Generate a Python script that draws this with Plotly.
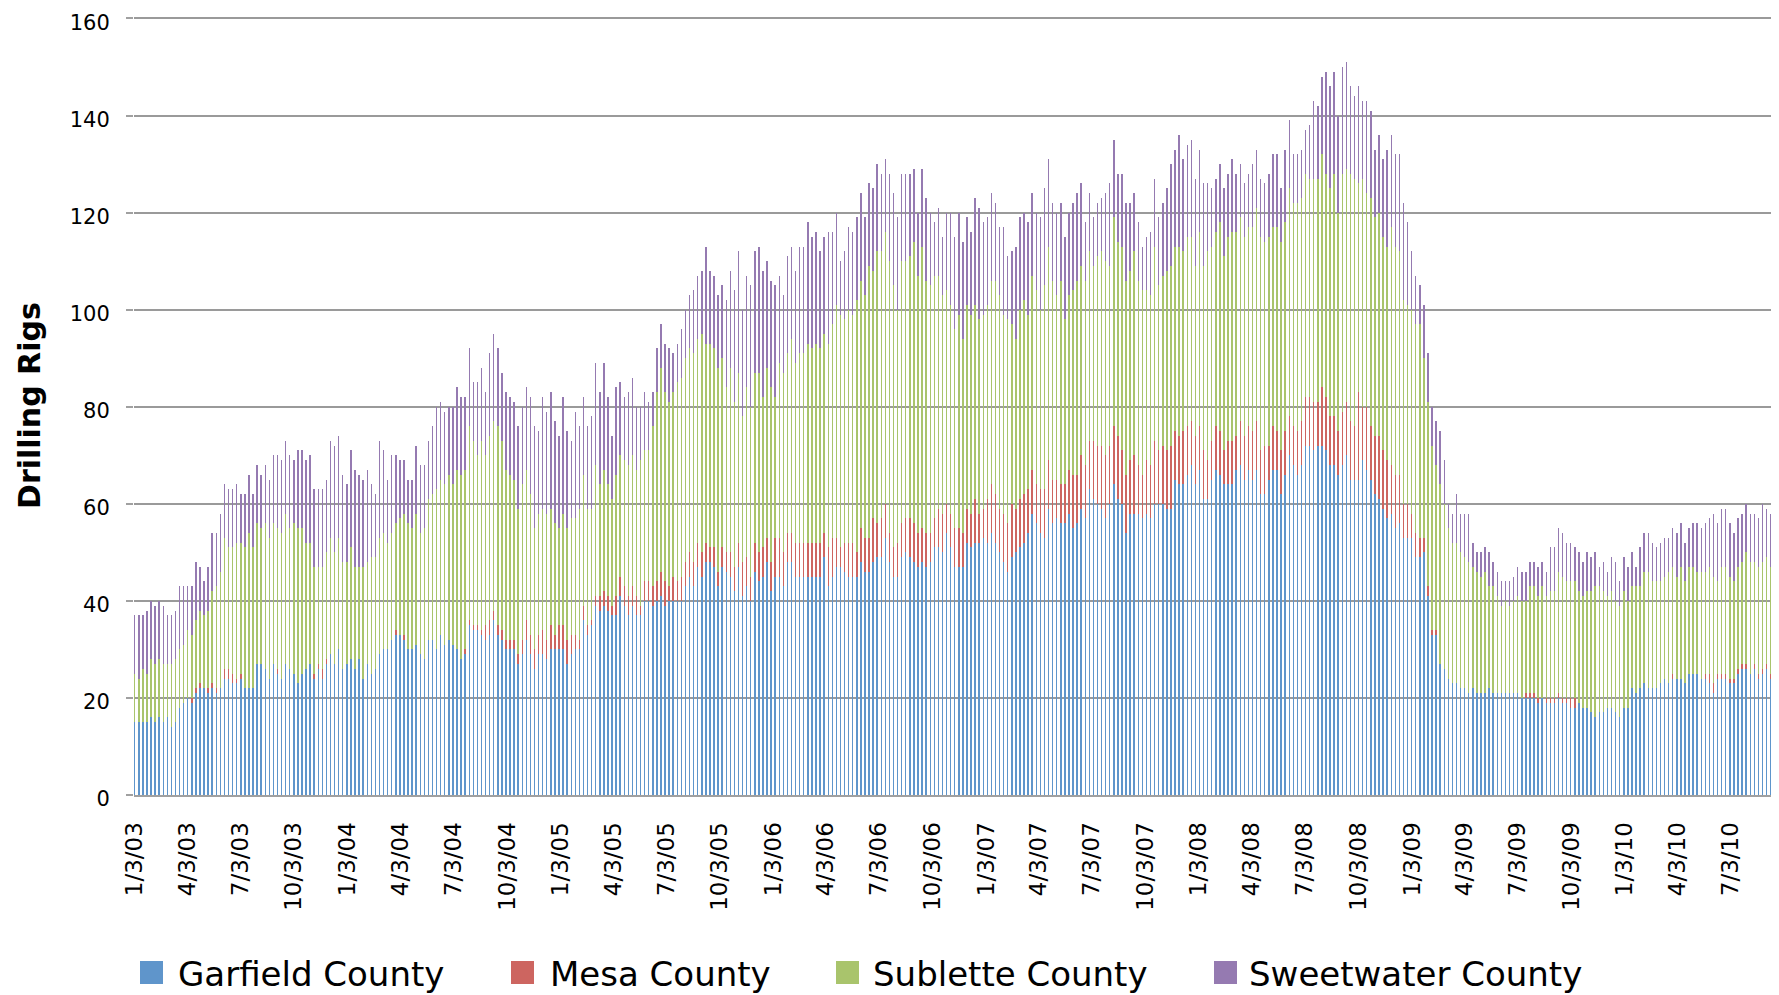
import pandas as pd
import plotly.graph_objects as go

# ---------------- data (weekly rig counts) ----------------
garfield = [
    15,15,15,15,16,15,16,15,16,14, 15,18,19,20,19,21,22,22,21,22,
    21,22,24,24,23,23,24,22,22,22, 27,27,26,24,27,25,24,27,26,25,
    23,25,26,27,24,26,24,27,29,27, 30,26,27,28,26,28,24,27,25,26,
    29,30,30,32,33,33,32,30,30,31, 29,28,32,32,30,33,31,32,31,30,
    28,29,35,34,34,33,32,33,36,33, 32,30,30,30,27,29,32,29,26,29,
    29,28,30,30,30,30,27,29,30,30, 36,33,35,39,38,39,38,37,37,41,
    39,37,39,37,37,40,40,39,40,41, 39,40,40,40,40,43,45,43,47,45,
    48,48,47,43,47,46,45,42,47,41, 43,40,46,44,45,48,42,45,45,43,
    48,48,45,45,45,45,45,45,45,49, 43,45,47,47,46,45,45,45,48,46,
    46,48,49,49,53,48,45,45,49,50, 49,48,47,48,47,48,51,51,50,54,
    51,47,47,47,52,51,52,52,53,52, 54,52,50,48,46,49,50,51,52,54,
    58,56,54,53,59,56,57,56,56,58, 55,56,59,57,63,61,60,59,57,60,
    64,61,60,54,58,58,58,57,58,57, 60,60,60,59,59,65,64,64,66,68,
    64,67,61,61,65,67,66,64,64,64, 67,68,65,67,65,67,62,62,65,67,
    67,62,66,70,68,66,68,72,72,71, 72,72,71,68,68,66,68,70,65,65,
    65,69,67,65,62,61,59,57,58,55, 56,53,53,53,49,49,50,41,33,33,
    27,26,24,23,23,22,22,21,22,21, 21,21,22,21,21,21,21,21,21,21,
    20,20,20,20,19,20,19,19,19,20, 19,19,18,18,19,18,18,17,16,17,
    17,18,18,17,16,18,18,22,21,22, 23,22,22,22,23,24,23,24,24,24,
    23,25,25,25,24,24,23,21,24,24, 24,23,23,25,26,26,25,26,24,25,
    26,24,25,
]

mesa = [
    0,0,0,0,0,0,0,0,0,0, 0,0,0,0,1,1,1,0,1,1,
    1,0,2,2,2,1,1,0,0,0, 0,0,0,0,0,1,0,0,0,0,
    0,0,0,0,1,1,2,1,0,0, 0,0,0,0,0,0,0,0,0,0,
    0,0,0,0,1,0,1,0,0,0, 0,0,0,0,0,0,0,0,0,0,
    0,1,1,1,1,1,3,3,2,2, 2,2,2,2,2,3,4,4,4,4,
    5,4,5,3,5,5,5,4,3,2, 3,2,1,2,3,3,3,2,4,4,
    4,4,4,4,2,4,4,4,4,5, 5,3,5,4,5,5,5,5,5,5,
    4,3,4,3,4,4,5,5,5,7, 6,5,6,6,6,5,6,8,8,7,
    6,6,7,7,7,7,7,7,7,5, 8,8,6,4,6,7,7,5,7,7,
    7,9,7,8,7,6,6,7,7,7, 8,8,7,7,7,6,6,8,8,6,
    7,8,8,7,7,7,9,6,6,9, 10,10,9,10,10,11,9,10,10,9,
    9,8,9,10,10,9,8,8,8,9, 11,10,11,11,10,12,12,13,13,12,
    12,13,11,12,11,12,10,9,11,11, 13,11,12,12,13,10,10,11,10,9,
    10,9,10,8,8,9,9,7,9,9, 7,9,9,9,10,10,9,10,7,9,
    8,9,9,8,8,9,9,10,10,10, 9,12,11,10,10,9,11,11,12,11,
    18,11,13,11,12,13,12,12,10,11, 10,7,7,5,5,4,3,2,1,1,
    0,0,0,0,0,0,0,0,0,0, 0,0,0,0,0,0,0,0,0,0,
    0,1,1,1,1,0,1,1,1,1, 1,1,2,2,0,0,0,0,0,0,
    0,0,0,0,0,0,0,0,0,0, 0,0,0,0,0,0,0,1,0,0,
    0,0,0,0,0,1,2,2,1,1, 1,1,1,1,1,1,0,1,1,1,
    1,1,1,
]

sublette = [
    10,9,11,10,12,12,12,12,11,13, 13,12,12,14,13,14,15,15,16,19,
    21,24,27,25,26,28,27,29,32,29, 29,28,30,29,29,29,30,31,29,31,
    32,30,26,25,22,20,21,22,24,23, 23,22,21,23,21,19,23,21,24,23,
    24,24,22,22,22,24,25,26,25,27, 25,27,29,30,33,32,33,34,33,37,
    38,37,40,38,35,39,35,38,39,41, 39,35,34,33,30,32,31,29,25,25,
    25,26,24,23,20,23,23,24,24,27, 27,24,23,27,23,25,23,22,25,25,
    26,27,27,26,30,27,27,33,39,42, 39,38,38,41,41,42,42,43,42,45,
    41,42,41,42,39,34,38,34,35,30, 35,35,35,37,31,35,36,29,36,37,
    37,40,37,39,39,41,40,41,40,41, 42,44,48,48,46,48,47,52,51,50,
    56,51,56,55,56,56,54,48,54,53, 54,58,53,58,52,51,50,48,45,44,
    43,41,44,40,42,41,40,40,40,40, 42,44,44,41,42,37,35,39,40,36,
    40,40,37,42,44,41,38,42,34,36, 38,40,39,38,39,36,39,40,40,37,
    43,40,42,40,39,42,38,38,35,35, 40,34,35,37,37,38,39,37,39,38,
    35,40,38,43,40,40,43,40,42,43, 42,42,41,41,42,44,44,42,43,41,
    42,43,43,47,46,47,46,46,45,46, 46,48,46,47,50,45,49,48,51,51,
    43,47,44,47,45,46,44,44,49,47, 46,42,41,42,43,44,37,38,38,34,
    37,34,31,29,29,28,27,27,25,25, 24,25,21,22,20,18,19,18,19,20,
    20,19,22,22,21,23,21,22,22,25, 25,24,24,24,23,23,24,25,27,26,
    25,23,24,23,23,24,22,21,22,21, 23,24,22,22,21,21,23,22,21,23,
    21,22,22,21,22,21,22,22,19,22, 22,21,20,21,21,23,23,21,22,22,
    22,22,22,
]

sweetwater = [
    12,13,11,13,12,12,12,12,10,10, 10,13,12,9,10,12,9,7,9,12,
    11,12,11,12,12,12,10,11,12,11, 12,11,12,12,14,15,15,15,15,13,
    16,16,17,18,16,16,16,15,20,22, 21,18,16,20,20,19,18,19,15,13,
    20,17,13,16,14,12,11,9,10,14, 14,13,12,14,17,16,15,14,16,17,
    16,15,16,12,15,15,13,17,18,16, 14,16,16,16,17,16,17,20,21,17,
    23,21,24,21,19,24,20,16,22,17, 16,17,19,21,19,22,18,13,18,15,
    13,15,16,13,11,12,10,7,9,9, 10,11,8,8,10,10,11,13,13,13,
    20,15,15,15,15,18,20,23,25,22, 23,25,25,26,26,22,22,23,18,16,
    20,19,19,22,22,25,23,23,20,20, 23,19,19,11,14,17,17,17,18,16,
    17,17,18,16,15,18,19,19,18,18, 17,15,13,16,17,15,11,14,12,16,
    19,19,21,20,18,17,22,23,19,18, 18,16,14,18,13,15,19,19,18,19,
    17,16,19,20,18,16,17,16,17,17, 18,18,17,12,12,10,11,11,14,17,
    16,14,15,16,14,12,12,9,11,13, 14,14,15,17,21,20,23,19,19,20,
    18,17,17,14,12,11,12,14,13,15, 12,11,11,11,13,12,12,12,13,15,
    15,11,15,14,10,10,10,9,11,16, 15,16,21,21,21,20,22,22,18,17,
    20,16,19,18,14,16,16,20,19,19, 20,20,17,12,10,8,11,10,8,9,
    11,9,5,6,10,8,9,10,5,4, 5,5,7,5,5,5,4,5,5,6,
    6,6,5,5,6,5,5,9,9,9, 9,8,8,7,8,7,8,7,7,4,
    6,5,7,8,5,7,7,7,4,8, 8,8,8,7,8,8,7,8,9,9,
    8,8,9,10,9,10,10,13,12,12, 12,11,10,10,10,10,10,10,10,12,
    10,11,10,
]

first_week = "2003-01-03"
tick_dates = [
    "2003-01-03", "2003-04-03", "2003-07-03", "2003-10-03",
    "2004-01-03", "2004-04-03", "2004-07-03", "2004-10-03",
    "2005-01-03", "2005-04-03", "2005-07-03", "2005-10-03",
    "2006-01-03", "2006-04-03", "2006-07-03", "2006-10-03",
    "2007-01-03", "2007-04-03", "2007-07-03", "2007-10-03",
    "2008-01-03", "2008-04-03", "2008-07-03", "2008-10-03",
    "2009-01-03", "2009-04-03", "2009-07-03", "2009-10-03",
    "2010-01-03", "2010-04-03", "2010-07-03",
]
tick_labels = [
    "1/3/03", "4/3/03", "7/3/03", "10/3/03",
    "1/3/04", "4/3/04", "7/3/04", "10/3/04",
    "1/3/05", "4/3/05", "7/3/05", "10/3/05",
    "1/3/06", "4/3/06", "7/3/06", "10/3/06",
    "1/3/07", "4/3/07", "7/3/07", "10/3/07",
    "1/3/08", "4/3/08", "7/3/08", "10/3/08",
    "1/3/09", "4/3/09", "7/3/09", "10/3/09",
    "1/3/10", "4/3/10", "7/3/10",
]
y_ticks = [0, 20, 40, 60, 80, 100, 120, 140, 160]
series_names = ["Garfield County", "Mesa County", "Sublette County", "Sweetwater County"]
series_colors = ["rgba(95,149,203,0.999)", "rgba(205,101,96,0.999)",
                 "rgba(169,196,108,0.999)", "rgba(149,122,177,0.999)"]

n = len(garfield)
assert len(mesa) == n and len(sublette) == n and len(sweetwater) == n
weeks = pd.date_range(first_week, periods=n, freq="7D")

# ---------------- layout geometry (viewport pixels) ----------------
W, H = 1779, 995
BODY = 8                       # default page margin of the html body
PLOT_L, PLOT_R, PLOT_T, PLOT_B = 134, 1776, 17, 795
ML = PLOT_L - BODY
MT = PLOT_T - BODY
MR = W - (PLOT_R - BODY)
MB = H - (PLOT_B - BODY)
PW = PLOT_R - PLOT_L
PH = PLOT_B - PLOT_T


def px_x(X):
    return (X - PLOT_L) / PW


def px_y(Y):
    return (PLOT_B - Y) / PH


DAY_MS = 86400000
fig = go.Figure()
for name, vals, col in zip(series_names, [garfield, mesa, sublette, sweetwater], series_colors):
    fig.add_trace(go.Bar(
        x=weeks, y=vals, name=name,
        marker=dict(color=col, line=dict(width=0)),
        width=2.5 * DAY_MS,
        showlegend=False,
    ))

fig.update_layout(
    width=W, height=H,
    margin=dict(l=ML, r=MR, t=MT, b=MB, pad=0, autoexpand=False),
    barmode="stack",
    plot_bgcolor="white", paper_bgcolor="white",
    font=dict(family="DejaVu Sans", color="#000000"),
    showlegend=False,
)
fig.update_xaxes(
    type="date", automargin=False,
    range=["2003-01-01 19:00", "2010-09-19 05:00"],
    tickmode="array", tickvals=tick_dates, ticktext=tick_labels,
    tickangle=-90,
    tickfont=dict(family="DejaVu Sans", size=23, color="#000000"),
    ticks="", ticklabelstandoff=16, ticklabeloverflow="allow",
    showgrid=False, showline=True, linecolor="#A0A0A0", linewidth=2,
    zeroline=False,
)
fig.update_yaxes(
    automargin=False,
    range=[0, 160.3],
    tickmode="array", tickvals=y_ticks,
    tickfont=dict(family="DejaVu Sans", size=21, color="#000000"),
    ticks="outside", ticklen=7, tickcolor="#A0A0A0", tickwidth=1.5,
    ticklabelstandoff=12, ticklabelshift=4, ticklabeloverflow="allow",
    showgrid=True, gridcolor="#9A9A9A", gridwidth=1.5,
    zeroline=False, showline=False,
)

# axis title
fig.add_annotation(
    text="<b>Drilling Rigs</b>", textangle=-90,
    xref="paper", yref="paper", x=px_x(29), y=px_y(406),
    xanchor="center", yanchor="middle", showarrow=False,
    font=dict(family="DejaVu Sans", size=30, color="#000000"),
)

# legend (drawn manually to match the large legend keys)
legend_key_x = [140, 511, 836, 1214]
legend_text_x = [176, 548, 871, 1247]
for name, col, kx, tx in zip(series_names, series_colors, legend_key_x, legend_text_x):
    fig.add_shape(
        type="rect", xref="paper", yref="paper",
        x0=px_x(kx), x1=px_x(kx + 23), y0=px_y(961), y1=px_y(984),
        fillcolor=col, line=dict(width=0),
    )
    fig.add_annotation(
        text=name, xref="paper", yref="paper",
        x=px_x(tx), y=px_y(974), xanchor="left", yanchor="middle",
        showarrow=False,
        font=dict(family="DejaVu Sans", size=34, color="#000000"),
    )

fig.write_html("out.html")
